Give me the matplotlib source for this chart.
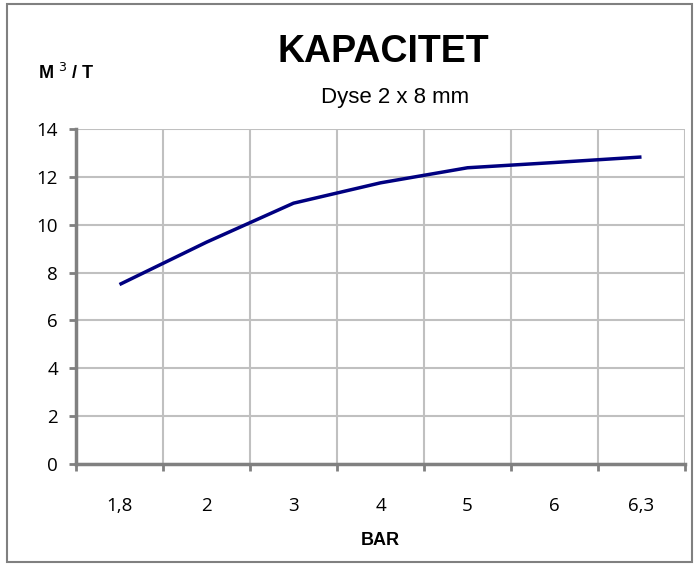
import matplotlib
matplotlib.use("Agg")
import matplotlib.pyplot as plt
from matplotlib.patches import Rectangle

categories = ["1,8", "2", "3", "4", "5", "6", "6,3"]
values = [7.5, 9.27, 10.9, 11.75, 12.38, 12.6, 12.83]
yticks = [0, 2, 4, 6, 8, 10, 12, 14]

W, H = 697, 566
fig = plt.figure(figsize=(W / 100, H / 100), dpi=100)
fig.patches.append(Rectangle((7 / W, 4 / H), 685 / W, 558 / H, transform=fig.transFigure,
                             fill=False, edgecolor="#808080", linewidth=1.5))

ax = fig.add_axes([76 / W, 1 - 464 / H, (685 - 76) / W, (464 - 129) / H])
x = list(range(len(categories)))
ax.plot(x, values, color="#000080", linewidth=2.5, solid_capstyle="butt")

ax.set_xlim(-0.5, len(categories) - 0.5)
ax.set_ylim(0, 14)
ax.set_yticks(yticks)
ax.set_yticklabels([str(v) for v in yticks], fontsize=13.5, family="Open Sans")
ax.set_xticks(x)
ax.set_xticklabels(categories, fontsize=13.5, family="Open Sans")
ax.tick_params(axis="x", length=0, pad=24)
ax.tick_params(axis="y", length=5, width=2, color="#808080", pad=8, direction="out")

# category boundary gridlines and tick marks
bounds = [i - 0.5 for i in range(len(categories) + 1)]
ax.set_xticks(bounds, minor=True)
ax.tick_params(axis="x", which="minor", length=5, width=2, color="#808080", direction="out")
for b in bounds[1:]:
    ax.axvline(b, color="#c0c0c0", linewidth=1.5, zorder=0)
ax.yaxis.grid(True, color="#c0c0c0", linewidth=1.5, zorder=0)
ax.set_axisbelow(True)

for s in ["top", "right"]:
    ax.spines[s].set_visible(False)
for s in ["left", "bottom"]:
    ax.spines[s].set_color("#808080")
    ax.spines[s].set_linewidth(2.5)

ax.set_xlabel("BAR", fontsize=13, fontweight="bold", family="Liberation Sans", labelpad=12)

fig.text(383 / W, 1 - 52 / H, "KAPACITET", ha="center", va="center", fontsize=27,
         fontweight="bold", family="Liberation Sans")
fig.text(395 / W, 1 - 97 / H, "Dyse 2 x 8 mm", ha="center", va="center", fontsize=16,
         family="Liberation Sans")
fig.text(66 / W, 1 - 73 / H, "M $^{3}$ / T", ha="center", va="center", fontsize=13,
         fontweight="bold", family="Liberation Sans")

fig.savefig("out.png", dpi=100)
